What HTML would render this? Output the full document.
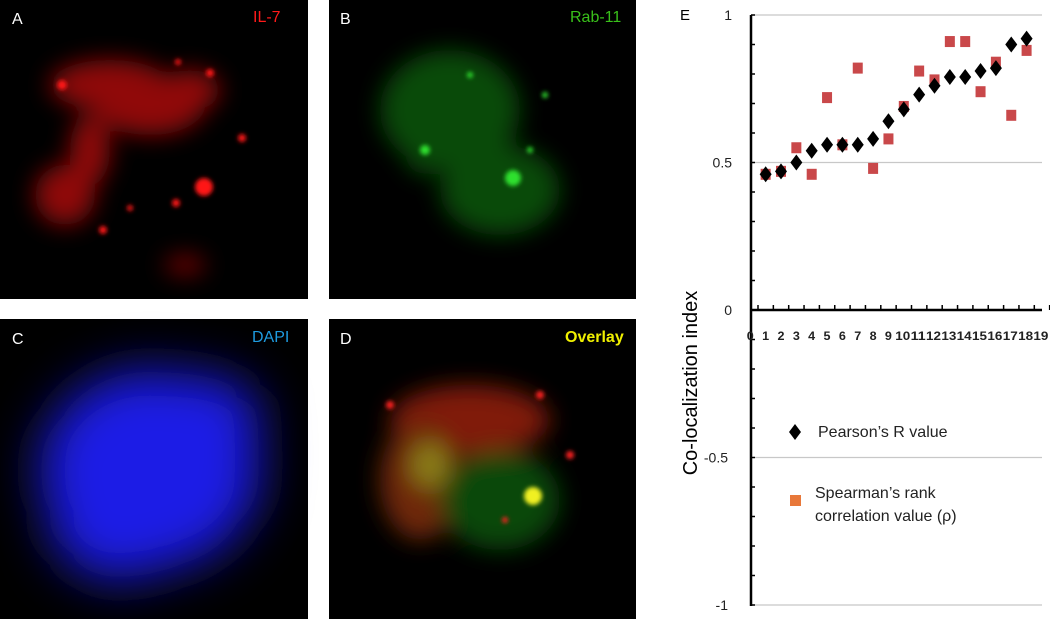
<!DOCTYPE html>
<html><head><meta charset="utf-8"><style>
html,body{margin:0;padding:0;background:#fff;width:1050px;height:619px;overflow:hidden;font-family:"Liberation Sans",sans-serif}
svg{display:block}
</style></head><body>
<svg id="root" width="1050" height="619" xmlns="http://www.w3.org/2000/svg">
<defs>
<filter id="b12" x="-50%" y="-50%" width="200%" height="200%"><feGaussianBlur stdDeviation="12"/></filter>
<filter id="b5" x="-50%" y="-50%" width="200%" height="200%"><feGaussianBlur stdDeviation="5"/></filter>
<filter id="b2" x="-50%" y="-50%" width="200%" height="200%"><feGaussianBlur stdDeviation="2"/></filter>
<filter id="b25" x="-50%" y="-50%" width="200%" height="200%"><feGaussianBlur stdDeviation="25"/></filter>
</defs>

<!-- Panel A -->
<g>
<rect x="0" y="0" width="308" height="299" fill="#000"/>
<g fill="#c01010" filter="url(#b12)" opacity="0.75">
<ellipse cx="110" cy="85" rx="60" ry="25"/><ellipse cx="150" cy="105" rx="55" ry="30"/>
<ellipse cx="90" cy="150" rx="20" ry="35"/><ellipse cx="65" cy="195" rx="30" ry="30"/>
<ellipse cx="190" cy="90" rx="30" ry="20"/><ellipse cx="185" cy="265" rx="20" ry="8"/>
</g>
<g fill="#ff1818" filter="url(#b2)">
<circle cx="204" cy="187" r="9"/><circle cx="62" cy="85" r="5"/><circle cx="210" cy="73" r="4"/>
<circle cx="242" cy="138" r="4"/><circle cx="176" cy="203" r="4"/><circle cx="130" cy="208" r="3"/>
<circle cx="178" cy="62" r="3"/><circle cx="103" cy="230" r="4"/>
</g>
<text x="12" y="24" fill="#fff" font-size="16">A</text>
<text x="253" y="22" fill="#ff1a1a" font-size="16">IL-7</text>
</g>

<!-- Panel B -->
<g>
<rect x="329" y="0" width="307" height="299" fill="#000"/>
<g fill="#0f6a0f" filter="url(#b12)" opacity="0.7">
<ellipse cx="450" cy="110" rx="70" ry="60"/><ellipse cx="500" cy="190" rx="60" ry="45"/>
<ellipse cx="425" cy="150" rx="20" ry="25"/>
</g>
<g fill="#2fe02f" filter="url(#b2)">
<circle cx="513" cy="178" r="8"/><circle cx="425" cy="150" r="5"/><circle cx="530" cy="150" r="3"/>
<circle cx="470" cy="75" r="3"/><circle cx="545" cy="95" r="3"/>
</g>
<text x="340" y="24" fill="#fff" font-size="16">B</text>
<text x="570" y="22" fill="#39c01a" font-size="16">Rab-11</text>
</g>

<!-- Panel C -->
<g>
<rect x="0" y="319" width="308" height="300" fill="#000"/>
<g fill="#1a1ae6" filter="url(#b25)">
<ellipse cx="150" cy="470" rx="110" ry="100"/><ellipse cx="200" cy="420" rx="60" ry="45"/>
<ellipse cx="120" cy="520" rx="70" ry="60"/>
</g>
<text x="12" y="344" fill="#fff" font-size="16">C</text>
<text x="252" y="342" fill="#1e9be0" font-size="16">DAPI</text>
</g>

<!-- Panel D -->
<g>
<rect x="329" y="319" width="307" height="300" fill="#000"/>
<g filter="url(#b12)" opacity="0.8">
<ellipse cx="470" cy="420" rx="80" ry="35" fill="#a02010"/>
<ellipse cx="420" cy="480" rx="40" ry="60" fill="#8a3010"/>
<ellipse cx="500" cy="500" rx="60" ry="50" fill="#0f5a0f"/>
<ellipse cx="430" cy="465" rx="18" ry="22" fill="#b0a020"/>
</g>
<g filter="url(#b2)">
<circle cx="533" cy="496" r="9" fill="#f0f020"/><circle cx="390" cy="405" r="4" fill="#ff2020"/>
<circle cx="540" cy="395" r="4" fill="#ff2020"/><circle cx="570" cy="455" r="4" fill="#ff2020"/>
<circle cx="505" cy="520" r="3" fill="#ff2020"/>
</g>
<text x="340" y="344" fill="#fff" font-size="16">D</text>
<text x="565" y="342" fill="#f0f000" font-size="16" font-weight="bold">Overlay</text>
</g>

<!-- Chart -->
<g id="chart"></g>
</svg>
<script>
var xCategories = [1,2,3,4,5,6,7,8,9,10,11,12,13,14,15,16,17,18];
var pearsonValues = [0.46,0.47,0.50,0.54,0.56,0.56,0.56,0.58,0.64,0.68,0.73,0.76,0.79,0.79,0.81,0.82,0.90,0.92];
var spearmanValues = [0.46,0.47,0.55,0.46,0.72,0.56,0.82,0.48,0.58,0.69,0.81,0.78,0.91,0.91,0.74,0.84,0.66,0.88];
var xTickLabels = ['0','1','2','3','4','5','6','7','8','9','10','11','12','13','14','15','16','17','18','19'];
var yTickValues = [1,0.5,0,-0.5,-1];
var yTickLabels = ['1','0.5','0','-0.5','-1'];

var NS = 'http://www.w3.org/2000/svg';
var g = document.getElementById('chart');
function X(v){return 750.3 + v*15.35;}
function Y(v){return 310 - v*295;}
function mk(tag, attrs){var e=document.createElementNS(NS,tag);for(var k in attrs)e.setAttribute(k,attrs[k]);g.appendChild(e);return e;}

// gridlines
yTickValues.forEach(function(v,i){
  if(v!==0){var l=mk('line',{x1:752,x2:1042,y1:Y(v),y2:Y(v),stroke:'#c8c8c8','stroke-width':1.2});
  
  }
  var t=mk('text',{x:v<0?728:732,y:Y(v)+5,'font-size':14,'text-anchor':'end',fill:'#222'});
  t.textContent=yTickLabels[i];
  
  
});
// minor y ticks
for(var k=-10;k<=10;k++){var m=mk('line',{x1:751,x2:755,y1:Y(k/10),y2:Y(k/10),stroke:'#000','stroke-width':1.5});

}
var ya=mk('line',{x1:751,x2:751,y1:Y(1),y2:Y(-1)+1,stroke:'#000','stroke-width':2.5});


var xa=mk('line',{x1:750,x2:1042,y1:Y(0),y2:Y(0),stroke:'#000','stroke-width':2.5});


xTickLabels.forEach(function(lab,i){
  var tk=mk('line',{x1:X(i)+7.7,x2:X(i)+7.7,y1:Y(0)-5,y2:Y(0),stroke:'#000','stroke-width':1.5});
  
  
  var t=mk('text',{x:X(i)+(i>=10?-1:0),y:340,'font-size':12,'text-anchor':'middle',fill:'#222','textLength':i>=10?15:7,'lengthAdjust':'spacingAndGlyphs','font-weight':'bold'});
  t.textContent=lab;
  
  
});
// series
xCategories.forEach(function(c,i){
  var s=mk('rect',{x:X(c)-5,y:Y(spearmanValues[i])-5.5,width:10,height:11,fill:'#c9484a'});
  
  
});
xCategories.forEach(function(c,i){
  var x=X(c),y=Y(pearsonValues[i]);
  var p=mk('polygon',{points:(x)+','+(y-8)+' '+(x+6)+','+y+' '+x+','+(y+8)+' '+(x-6)+','+y,fill:'#000'});
  
  
});
// labels
var e=mk('text',{x:680,y:20,'font-size':15,fill:'#000'});e.textContent='E';


var yt=mk('text',{x:0,y:0,'font-size':20,fill:'#000','text-anchor':'middle',transform:'translate(697,383) rotate(-90)'});
yt.textContent='Co-localization index';


// legend
var lp=mk('polygon',{points:'795,424 801,432 795,440 789,432',fill:'#000'});


var lt=mk('text',{x:818,y:437,'font-size':16,fill:'#222'});lt.textContent='Pearson\u2019s R value';


var ls=mk('rect',{x:790,y:495,width:11,height:11,fill:'#e8783a'});


var lt2=mk('text',{x:815,y:498,'font-size':16,fill:'#222'});lt2.textContent='Spearman\u2019s rank';


var lt3=mk('text',{x:815,y:521,'font-size':16,fill:'#222'});lt3.textContent='correlation value (\u03c1)';


</script>
</body></html>
